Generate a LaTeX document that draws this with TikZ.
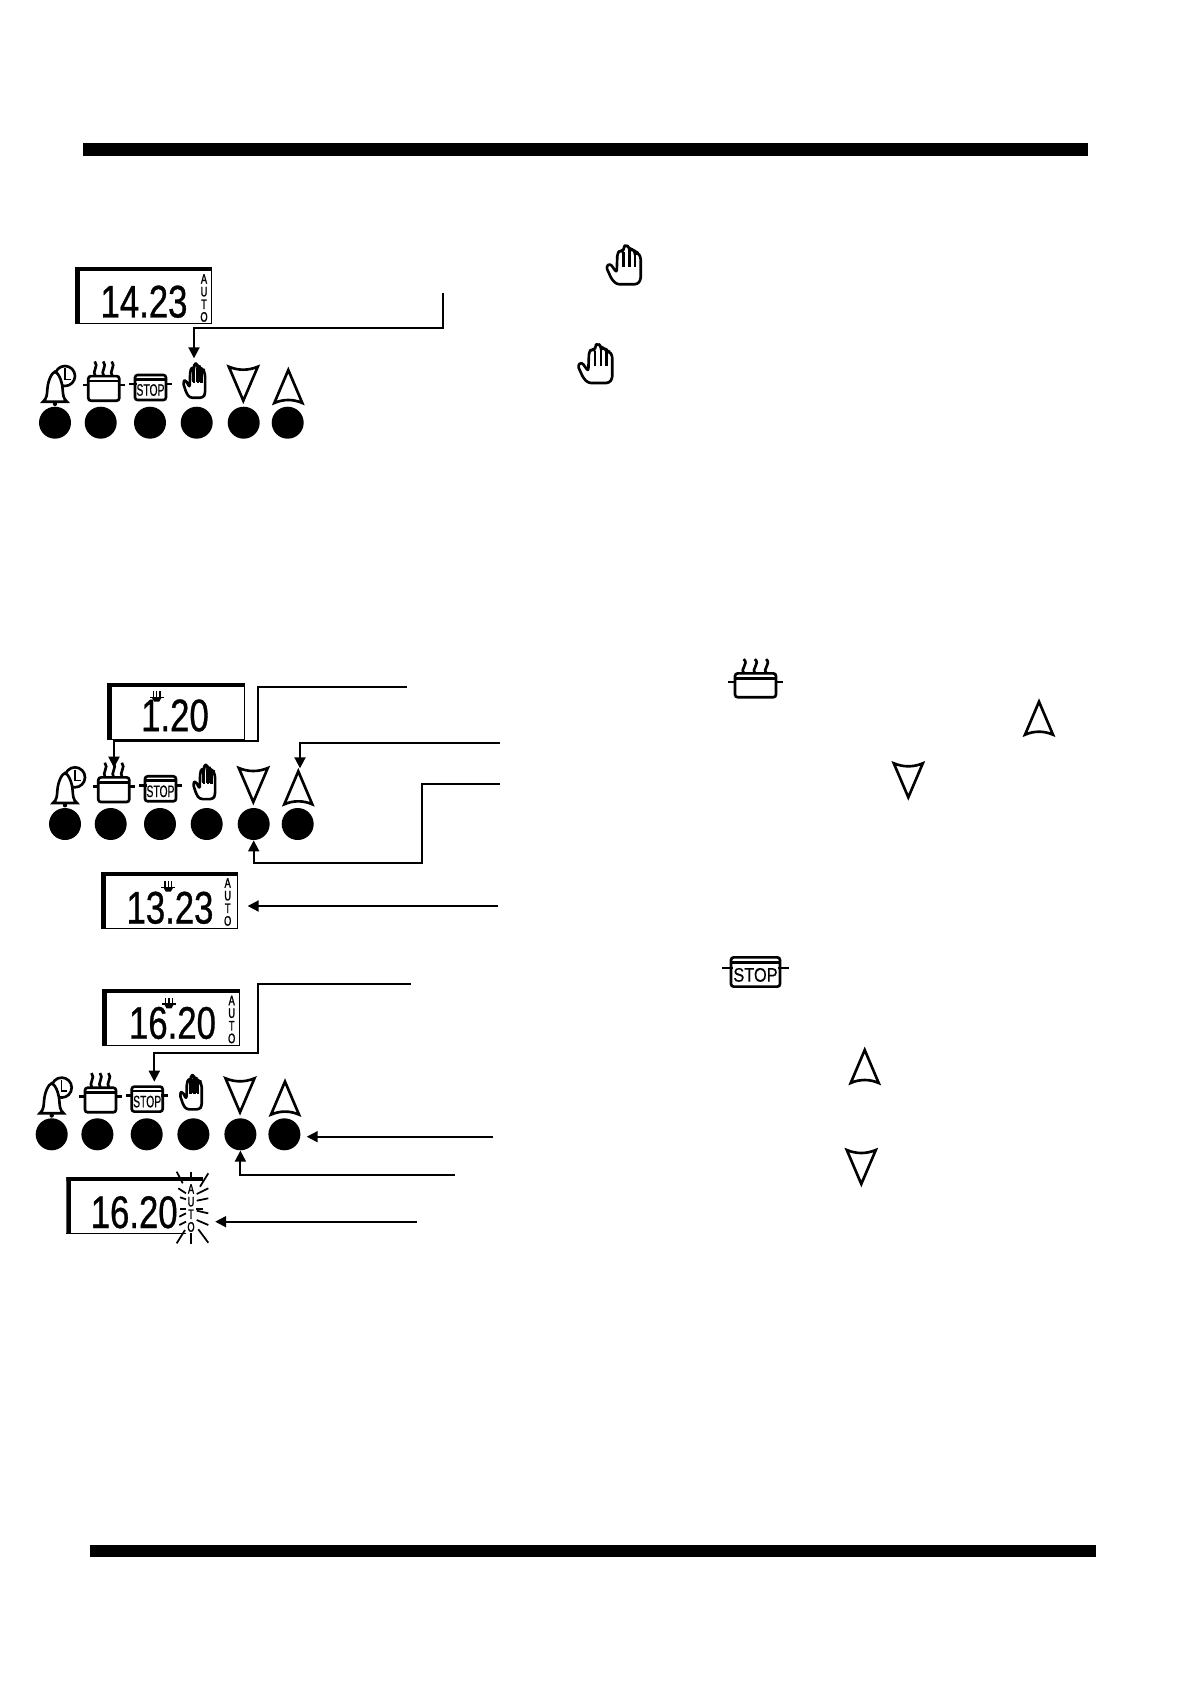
\documentclass[tikz,border=0pt]{standalone}
\usepackage{fontspec}
\usetikzlibrary{arrows.meta}
\newfontfamily\lcdfont[FakeStretch=.76,FakeBold=.7]{Liberation Sans}
\newfontfamily\stopfont[FakeStretch=.62,FakeBold=.3]{Liberation Sans}
\newfontfamily\autofont[FakeStretch=.68,FakeBold=1.5]{Liberation Sans}
\tikzset{
  icon/.style={line width=1.5pt,line join=miter},
  conn/.style={line width=1.1pt,-{Stealth[length=.22cm,width=.22cm,inset=0pt]}},
  btn/.style={circle,fill=black,inner sep=0pt,minimum size=.64cm},
  lcdbox/.style={draw,line width=.5pt,inner sep=0pt,minimum width=2.734cm,minimum height=1.12cm,
    path picture={
      \fill (path picture bounding box.north west) rectangle ([xshift=.1cm]path picture bounding box.south west);
      \fill (path picture bounding box.north west) rectangle ([yshift=-.08cm]path picture bounding box.north east);
    }},
  lcdtxt/.style={inner sep=0pt,font=\lcdfont\fontsize{26}{26}\selectfont},
  autotxt/.style={inner sep=0pt,align=center,font=\autofont\fontsize{7.8}{7.2}\selectfont},
  handicon/.pic={
    \draw[icon,line join=round,rounded corners=1.6pt,fill=white] (0.3,22.7) -- (4.3,19.3) -- (11,28.7) -- (11.7,9.3) -- (14.5,6) -- (17.7,8)
      -- (17.7,3.3) -- (20.3,0.8) -- (23.7,3.2) -- (23.7,6.5) -- (26,4.8) -- (29.3,7.5) -- (29.3,9.5) -- (32,8.5) -- (35,12.7)
      -- (35,36) -- (31.7,40.3) -- (11,40.3) -- (6,35.3) -- cycle;
    \foreach \hx/\hy in {17.7/8,23.7/6,29.3/9} \draw[icon] (\hx,\hy) -- (\hx,23);
  },
  uptri/.pic={\draw[icon] (0,0) -- (14,33) .. controls (5,29) and (-5,29) .. (-14,33) -- cycle;},
  downtri/.pic={\draw[icon] (0,0) -- (14.5,-34) .. controls (5,-30) and (-5,-30) .. (-14.5,-34) -- cycle;},
  poticon/.pic={
    \foreach \sx in {-8.5,0,8.5} \draw[icon] (\sx,-12.3) .. controls (\sx-4,-17) and (\sx+4,-22) .. (\sx-.5,-27);
    \draw[icon,rounded corners=1.5pt] (-15.5,-12.3) rectangle (15.5,12.3);
    \draw[icon] (-15.5,-7.3) -- (15.5,-7.3);
    \draw[icon] (-21.2,-3.3) -- (-15.5,-3.3) (15.5,-3.3) -- (21.2,-3.3);
  },
  stopicon/.pic={
    \draw[icon,rounded corners=1.5pt] (-15.5,-12.5) rectangle (15.5,12.5);
    \draw[icon] (-15.5,-8.2) -- (15.5,-8.2);
    \draw[icon] (-21.2,-3.5) -- (-14,-3.5) (14,-3.5) -- (21.2,-3.5);
    \node[transform shape,inner sep=0pt,font=\stopfont\fontsize{9.5}{9.5}\selectfont] (-txt) at (0,2.5) {STOP};
  },
  cookmark/.pic={
    \foreach \cx in {-3.3,0,3.3} \draw[line width=.7pt] (\cx,-5.5) -- (\cx,0);
    \fill (-7,0) rectangle (7,1.5);
    \fill (-4.5,1.5) -- (4.5,1.5) -- (2.5,5) -- (-2.5,5) -- cycle;
  },
  panel/.pic={
    \foreach \bx [count=\bi] in {0,45.7,95,141.7,188.7,232.7} \node[btn] (-b\bi) at (\bx,0) {};
    \draw[icon] (10,-46.7) circle (10);
    \draw[line width=.9pt] (10,-54.3) -- (10,-43.3) -- (15.7,-43.3);
    \draw[icon,fill=white] (-12,-21) .. controls (-8,-24) and (-8,-29) .. (-7.7,-33) .. controls (-7,-43) and (-3,-50) .. (0,-51)
      .. controls (3,-50) and (7,-43) .. (7.7,-33) .. controls (8,-29) and (8,-24) .. (12,-21) -- cycle;
    \fill (0,-18.8) circle (2.2);
    \pic at (48.8,-34.3) {poticon};
    \pic at (95.5,-35.2) {stopicon};
    \pic[xscale=.64,yscale=.87] at (127.7,-60) {handicon};
    \foreach \hx in {137.5,139.2,141,142.8,144.5} \draw[line width=.5pt] (\hx,-55) -- (\hx,-41);
    \pic at (188.3,-22) {downtri};
    \pic at (233.3,-52.7) {uptri};
    \coordinate (-hand) at (139,-64.4);
    \coordinate (-pot) at (49,-56.3);
    \coordinate (-stop) at (102.6,-52.6);
    \coordinate (-up) at (235,-55.7);
  },
}
\begin{document}
\begin{tikzpicture}[x=.02cm,y=-.02cm]
\useasboundingbox (0,0) rectangle (1191,1683);
\fill (82.6,142.7) rectangle (1088,155.6);
\fill (90,1545) rectangle (1095.6,1557);

\node[lcdbox] (d1) at (143.4,295.3) {};
\node[lcdtxt] (d1t) at (144,301.7) {14.23};
\node[autotxt] (d1a) at (204,298) {A\\U\\T\\O};
\pic (p1) at (55,422.7) {panel};
\coordinate (r1) at (442.7,293.3);
\coordinate (c1) at (194,328);
\draw[conn] (r1) |- (c1) -- (p1-hand);
\pic at (605.7,244) {handicon};
\pic at (577.3,342.7) {handicon};

\node[lcdbox] (d2) at (175.7,711.2) {};
\node[lcdtxt] (d2t) at (175,715.5) {1.20};
\pic at (156.7,696.7) {cookmark};
\pic (p2) at (65,824) {panel};
\coordinate (r2) at (406.7,686.7);
\coordinate (c2) at (258.3,740.7);
\draw[conn] (r2) -| (c2) -| (p2-pot);
\coordinate (r3) at (500,742.7);
\draw[conn] (r3) -| (p2-up);
\coordinate (r4) at (500,784);
\coordinate (c4) at (422,863.3);
\draw[conn] (r4) -| (c4) -| (p2-b5.south);
\node[lcdbox] (d3) at (169.5,900) {};
\node[lcdtxt] (d3t) at (170,907.8) {13.23};
\node[autotxt] (d3a) at (227.7,902) {A\\U\\T\\O};
\pic at (168.3,886.7) {cookmark};
\coordinate (r5) at (498.3,906);
\draw[conn,shorten >=.188cm] (r5) -- (r5 -| d3.east);
\pic[xscale=1.32,yscale=.97] at (755.5,685.3) {poticon};
\pic at (1039,701.7) {uptri};
\pic at (908.3,797.3) {downtri};

\node[lcdbox] (d4) at (170.7,1017.3) {};
\node[lcdtxt] (d4t) at (172.5,1023) {16.20};
\node[autotxt] (d4a) at (231.7,1019.5) {A\\U\\T\\O};
\pic at (169,1003.3) {cookmark};
\pic (p3) at (51.7,1134.3) {panel};
\coordinate (r6) at (411,984);
\coordinate (c6) at (258.3,1053.3);
\draw[conn] (r6) -| (c6) -| (p3-stop);
\coordinate (r7) at (493.3,1136.7);
\draw[conn,shorten >=.12cm] (r7) -- (r7 -| p3-b6.east);
\coordinate (r8) at (455,1175);
\draw[conn] (r8) -| (p3-b5.south);
\node[lcdbox,draw=none] (d5) at (134.7,1205.3) {};
\draw[line width=.5pt] (d5.south west) -- ++(120,0);
\node[lcdtxt] (d5t) at (134.2,1212.3) {16.20};
\node[autotxt] (d5a) at (191,1208) {A\\U\\T\\O};
\foreach \xa/\ya/\xb/\yb in {176.7/1171.7/182.7/1183.3,191/1171.7/191/1180.7,208.3/1173.3/200/1186.7,
  178.3/1188.3/186/1193.3,180/1197.3/186/1199.3,180/1209.3/186/1209.3,179.3/1216.7/186/1213.3,179.3/1225/186/1221.7,
  208.3/1188.3/196.7/1194,208.3/1198.3/196.7/1200.7,203.3/1209.3/196/1209.3,208.3/1213.3/196.7/1210.7,208.3/1225/196.7/1220,
  176.7/1243.3/185/1230,191/1244/191/1233.3,208.3/1242.7/198.3/1229.3}
  \draw[line width=1pt] (\xa,\ya) -- (\xb,\yb);
\coordinate (r9) at (416.7,1221.7);
\draw[conn,shorten >=.234cm] (r9) -- (r9 -| d5.east);
\pic[xscale=1.58,yscale=1.17] at (755.5,972) {stopicon};
\pic at (864.7,1050) {uptri};
\pic at (861.3,1184) {downtri};
\end{tikzpicture}
\end{document}
